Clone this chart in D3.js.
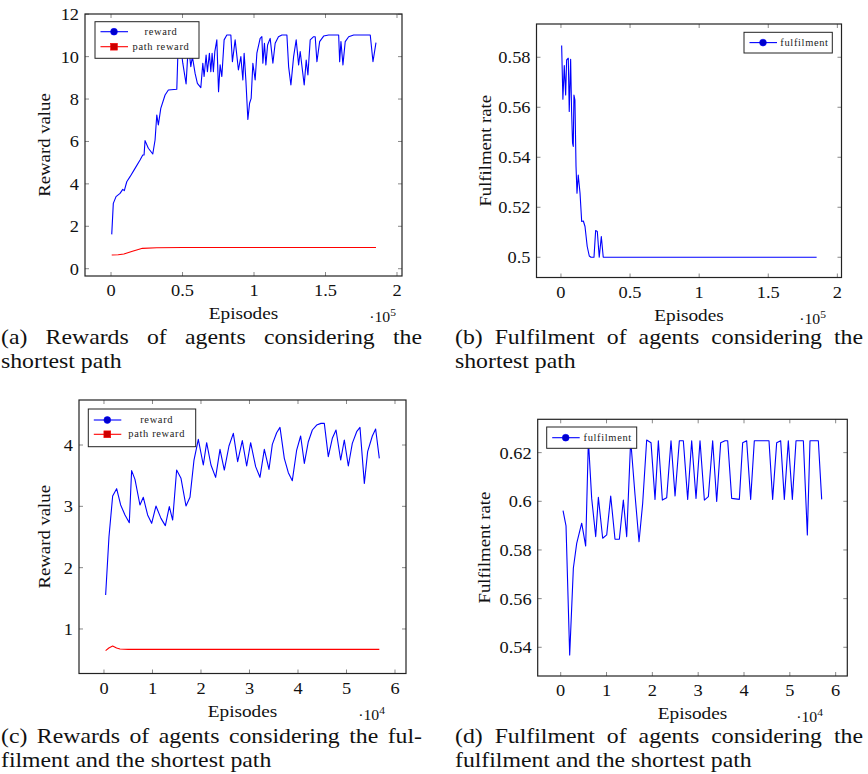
<!DOCTYPE html>
<meta charset="utf-8">
<style>
body { margin:0; background:#fff; }
.frame { fill:none; stroke:#222; stroke-width:1.2px; }
.tick { stroke:#888; stroke-width:1px; }
.series { fill:none; stroke-width:1.1px; stroke-linejoin:round; }
</style>
<body>
<script src="https://d3js.org/d3.v7.min.js"></script>
<script>

// ---- data (x in units of 10^5 for a/b, 10^4 for c/d) ----
var rewardA = [
  [0.005,1.62],[0.016,3.08],[0.035,3.40],[0.063,3.55],[0.082,3.74],[0.093,3.68],[0.11,4.10],
  [0.133,4.34],[0.168,4.73],[0.203,5.13],[0.222,5.36],[0.231,5.36],[0.238,6.04],[0.261,5.68],
  [0.292,5.41],[0.308,6.07],[0.32,7.25],[0.331,6.78],[0.348,7.56],[0.378,8.19],[0.401,8.43],
  [0.46,8.46],[0.467,10.0],[0.478,11.0],[0.502,9.69],[0.525,8.71],[0.541,10.6],[0.558,9.53],
  [0.569,10.0],[0.588,9.21],[0.604,8.74],[0.628,8.54],[0.642,9.69],[0.651,9.06],[0.665,10.08],
  [0.674,9.29],[0.688,10.16],[0.698,9.29],[0.707,10.16],[0.716,9.29],[0.726,10.24],[0.74,10.79],
  [0.752,8.35],[0.763,9.61],[0.775,9.06],[0.791,10.79],[0.81,11.02],[0.838,11.02],[0.849,9.76],
  [0.868,10.79],[0.891,9.37],[0.908,10.0],[0.922,8.9],[0.931,10.16],[0.943,8.9],[0.957,7.04],
  [0.969,7.8],[0.98,8.03],[0.992,9.69],[1.008,8.9],[1.02,10.16],[1.043,10.86],[1.055,10.94],
  [1.062,9.69],[1.073,10.63],[1.083,9.61],[1.095,10.55],[1.113,10.86],[1.132,9.69],[1.148,10.63],
  [1.171,10.94],[1.195,11.02],[1.23,11.02],[1.242,9.53],[1.258,8.66],[1.277,10.0],[1.295,10.79],
  [1.312,9.61],[1.323,10.24],[1.351,8.66],[1.365,9.84],[1.377,9.14],[1.393,10.79],[1.417,10.94],
  [1.428,10.94],[1.44,9.76],[1.459,10.71],[1.487,10.97],[1.522,11.02],[1.592,11.02],[1.599,9.76],
  [1.608,10.71],[1.622,9.61],[1.638,10.71],[1.662,10.94],[1.697,11.02],[1.813,11.02],[1.832,9.76],
  [1.853,10.66]
];
var pathRewardA = [
  [0.005,0.645],[0.05,0.66],[0.09,0.69],[0.15,0.82],[0.22,0.96],[0.32,0.99],[0.5,1.0],
  [1.0,1.0],[1.5,1.0],[1.853,1.0]
];
var fulfilB = [
  [0.005,0.5847],[0.014,0.5632],[0.024,0.5767],[0.034,0.5649],[0.041,0.5789],[0.053,0.5796],
  [0.06,0.5583],[0.07,0.5792],[0.077,0.5583],[0.084,0.5456],[0.089,0.5443],[0.094,0.5649],
  [0.101,0.5629],[0.109,0.5363],[0.116,0.5256],[0.125,0.5329],[0.138,0.5256],[0.15,0.5143],
  [0.162,0.5145],[0.174,0.5123],[0.19,0.5043],[0.205,0.5005],[0.217,0.5],[0.239,0.5],
  [0.251,0.5107],[0.263,0.5103],[0.277,0.5],[0.292,0.5083],[0.306,0.5],[1.85,0.5]
];
var rewardC = [
  [0.034,1.554],[0.103,2.505],[0.179,3.168],[0.261,3.288],[0.344,3.022],[0.433,2.859],[0.522,2.734],
  [0.57,3.582],[0.639,3.44],[0.742,3.022],[0.811,3.147],[0.9,2.859],[0.983,2.723],[1.072,3.005],
  [1.175,2.804],[1.265,2.685],[1.347,2.995],[1.416,2.777],[1.498,3.592],[1.588,3.457],[1.691,3.005],
  [1.773,3.147],[1.856,3.755],[1.945,4.092],[2.048,3.674],[2.117,4.038],[2.206,3.674],[2.302,3.473],
  [2.392,3.929],[2.481,3.592],[2.577,3.984],[2.667,4.19],[2.756,3.728],[2.852,4.071],[2.942,3.658],
  [3.024,4.038],[3.127,3.647],[3.216,3.473],[3.306,3.929],[3.402,3.603],[3.471,4.011],[3.56,4.201],
  [3.629,4.288],[3.718,3.783],[3.801,3.549],[3.883,3.418],[3.973,3.918],[4.055,4.147],[4.131,3.701],
  [4.213,4.054],[4.296,4.245],[4.385,4.326],[4.474,4.353],[4.543,4.353],[4.625,3.81],[4.708,4.109],
  [4.784,4.245],[4.88,3.755],[4.955,4.082],[5.038,3.658],[5.12,4.027],[5.21,4.217],[5.278,4.288],
  [5.368,3.375],[5.436,3.891],[5.533,4.147],[5.601,4.261],[5.677,3.783]
];
var pathRewardC = [
  [0.034,0.647],[0.1,0.69],[0.179,0.723],[0.26,0.69],[0.33,0.674],[0.5,0.668],[1,0.668],
  [2,0.668],[3,0.668],[4,0.668],[5,0.668],[5.677,0.668]
];
var fulfilD = [
  [0.051,0.5962],[0.116,0.5899],[0.196,0.5368],[0.276,0.5725],[0.349,0.5827],[0.458,0.591],
  [0.545,0.5816],[0.604,0.6252],[0.676,0.6012],[0.764,0.5855],[0.822,0.6016],[0.916,0.5848],
  [1.004,0.5862],[1.091,0.6022],[1.185,0.5844],[1.28,0.5844],[1.367,0.6005],[1.44,0.5855],
  [1.527,0.6252],[1.622,0.6026],[1.709,0.5834],[1.789,0.5992],[1.876,0.6252],[1.971,0.6241],
  [2.058,0.6008],[2.131,0.6249],[2.218,0.6005],[2.313,0.6015],[2.407,0.6249],[2.495,0.6022],
  [2.589,0.6249],[2.676,0.6249],[2.771,0.6008],[2.858,0.6249],[2.953,0.6012],[3.04,0.6249],
  [3.135,0.6005],[3.222,0.6019],[3.316,0.6249],[3.404,0.5999],[3.491,0.6241],[3.585,0.6249],
  [3.644,0.6249],[3.731,0.6012],[3.898,0.6008],[3.971,0.6241],[4.058,0.6249],[4.145,0.6008],
  [4.225,0.6249],[4.545,0.6249],[4.625,0.6008],[4.713,0.6241],[4.8,0.6249],[4.88,0.6008],
  [4.967,0.6249],[5.055,0.6008],[5.135,0.6249],[5.295,0.6249],[5.382,0.5862],[5.44,0.6249],
  [5.622,0.6249],[5.695,0.6008]
];

// ---- ticks and text ----
var ticksXab = [0, 0.5, 1, 1.5, 2];
var ticksXcd = [0, 1, 2, 3, 4, 5, 6];
var ticksYa = [0, 2, 4, 6, 8, 10, 12];
var ticksYb = [0.5, 0.52, 0.54, 0.56, 0.58];
var ticksYc = [1, 2, 3, 4];
var ticksYd = [0.54, 0.56, 0.58, 0.6, 0.62];
var captionA = ["(a) Rewards of agents considering the", "shortest path"];
var captionB = ["(b) Fulfilment of agents considering the", "shortest path"];
var captionC = ["(c) Rewards of agents considering the ful-", "filment and the shortest path"];
var captionD = ["(d) Fulfilment of agents considering the", "fulfilment and the shortest path"];
var legendReward = ["reward", "path reward"];
var legendFulfil = ["fulfilment"];

var BLUE = "#0000ff", RED = "#ff0000";
var SERIF = "'Liberation Serif', 'Times New Roman', serif";

var panels = [
  { frame:[85,14,402,276], xd:[-0.182,2.035], yd:[-0.344,12.01], xt:ticksXab, yt:ticksYa,
    ylabel:"Reward value", ylx:50, exp:"5", expX:396, series:[rewardA, pathRewardA], colors:[BLUE, RED],
    legend:{x:95, y:21.7, w:104, h:36.6, rows:[10,25], names:legendReward, tx:66},
    caption:captionA, capX:1, capW:421, capY:344 },
  { frame:[536.5,24,841.5,277.5], xd:[-0.177,2.03], yd:[0.4919,0.5933], xt:ticksXab, yt:ticksYb,
    ylabel:"Fulfilment rate", ylx:491, exp:"5", expX:826, series:[fulfilB], colors:[BLUE],
    legend:{x:744, y:32.3, w:88.3, h:20.7, rows:[10.3], names:legendFulfil, tx:60.5},
    caption:captionB, capX:455, capW:408, capY:344 },
  { frame:[79,400,406,673.5], xd:[-0.515,6.227], yd:[0.274,4.734], xt:ticksXcd, yt:ticksYc,
    ylabel:"Reward value", ylx:50, exp:"4", expX:385, series:[rewardC, pathRewardC], colors:[BLUE, RED],
    legend:{x:88.3, y:409, w:107.4, h:37.7, rows:[11,25.3], names:legendReward, tx:68.4},
    caption:captionC, capX:1, capW:421, capY:743 },
  { frame:[537.7,419.3,847.3,676], xd:[-0.502,6.254], yd:[0.5282,0.6337], xt:ticksXcd, yt:ticksYd,
    ylabel:"Fulfilment rate", ylx:490, exp:"4", expX:823, series:[fulfilD], colors:[BLUE],
    legend:{x:546.7, y:427, w:90, h:21.3, rows:[10.7], names:legendFulfil, tx:61},
    caption:captionD, capX:455, capW:408, capY:743 }
];

var svg = d3.select("body").append("svg").attr("width", 868).attr("height", 774);
var fmt = function(v){ return String(+v.toFixed(3)); };

// serif text, stretched horizontally to approach Computer Modern widths
function label(parent, x, y, str, size, anchor, sx, rot){
  var tr = "translate(" + x + "," + y + ")" + (rot ? " rotate(" + rot + ")" : "") + " scale(" + sx + ",1)";
  return parent.append("text").attr("transform", tr)
    .style("font-family", SERIF).style("font-size", size + "px").style("fill", "#111")
    .attr("text-anchor", anchor).text(str);
}

panels.forEach(function(p){
  var L = p.frame[0], T = p.frame[1], R = p.frame[2], B = p.frame[3];
  var x = d3.scaleLinear().domain(p.xd).range([L, R]);
  var y = d3.scaleLinear().domain(p.yd).range([B, T]);
  var g = svg.append("g");

  // ticks on all four sides, pointing inward
  var tl = 4;
  p.xt.forEach(function(v){
    g.append("line").attr("class","tick").attr("x1",x(v)).attr("x2",x(v)).attr("y1",B).attr("y2",B-tl);
    g.append("line").attr("class","tick").attr("x1",x(v)).attr("x2",x(v)).attr("y1",T).attr("y2",T+tl);
    label(g, x(v), B+20, fmt(v), 17.5, "middle", 1.05);
  });
  p.yt.forEach(function(v){
    g.append("line").attr("class","tick").attr("x1",L).attr("x2",L+tl).attr("y1",y(v)).attr("y2",y(v));
    g.append("line").attr("class","tick").attr("x1",R).attr("x2",R-tl).attr("y1",y(v)).attr("y2",y(v));
    label(g, L-6, y(v)+6, fmt(v), 17.5, "end", 1.05);
  });

  var line = d3.line().x(d=>x(d[0])).y(d=>y(d[1]));
  p.series.forEach(function(s, i){
    g.append("path").attr("class","series").attr("d", line(s)).attr("stroke", p.colors[i]);
  });

  g.append("rect").attr("class","frame").attr("x",L).attr("y",T).attr("width",R-L).attr("height",B-T);

  // legend
  var lg = g.append("g").attr("transform","translate("+p.legend.x+","+p.legend.y+")");
  lg.append("rect").attr("width",p.legend.w).attr("height",p.legend.h)
    .attr("fill","#fff").attr("stroke","#222").attr("stroke-width",1);
  p.legend.names.forEach(function(n, i){
    var ry = p.legend.rows[i];
    lg.append("line").attr("x1",5.5).attr("x2",33).attr("y1",ry).attr("y2",ry)
      .attr("stroke",p.colors[i]).attr("stroke-width",1.1);
    if (p.colors[i] === BLUE)
      lg.append("circle").attr("cx",19).attr("cy",ry).attr("r",3.4).attr("fill","#0000cc").attr("stroke",BLUE).attr("stroke-width",0.6);
    else
      lg.append("rect").attr("x",15.6).attr("y",ry-3.4).attr("width",6.8).attr("height",6.8).attr("fill","#cc0000").attr("stroke",RED).attr("stroke-width",0.6);
    label(lg, p.legend.tx, ry+3, n, 9.5, "middle", 1.1)
      .style("letter-spacing","0.6px").style("fill","#222");
  });

  // axis labels
  var cx = (L+R)/2, cy = (T+B)/2;
  label(g, p.ylx, cy, p.ylabel, 17.5, "middle", 1.07, -90);
  label(g, cx, B+43, "Episodes", 17.5, "middle", 1.1);
  var e = label(g, p.expX, B+46, "", 15, "end", 1.05);
  e.append("tspan").text("\u00b710");
  e.append("tspan").attr("dy",-6).style("font-size","11px").text(p.exp);

  // caption, first line justified
  var sx = 1.08;
  var cg = g.append("g").attr("transform","translate("+p.capX+","+p.capY+") scale("+sx+",1)")
    .style("font-family", SERIF).style("font-size","22px").style("fill","#111");
  var words = p.caption[0].split(" ");
  var ws = words.map(function(w){ return cg.append("text").text(w); });
  var widths = ws.map(function(t){ return t.node().getComputedTextLength(); });
  var gap = (p.capW/sx - d3.sum(widths)) / (words.length - 1);
  var cur = 0;
  ws.forEach(function(t, i){ t.attr("x", cur); cur += widths[i] + gap; });
  cg.append("text").attr("x",0).attr("y",24).text(p.caption[1]);
});
</script>
</body>
